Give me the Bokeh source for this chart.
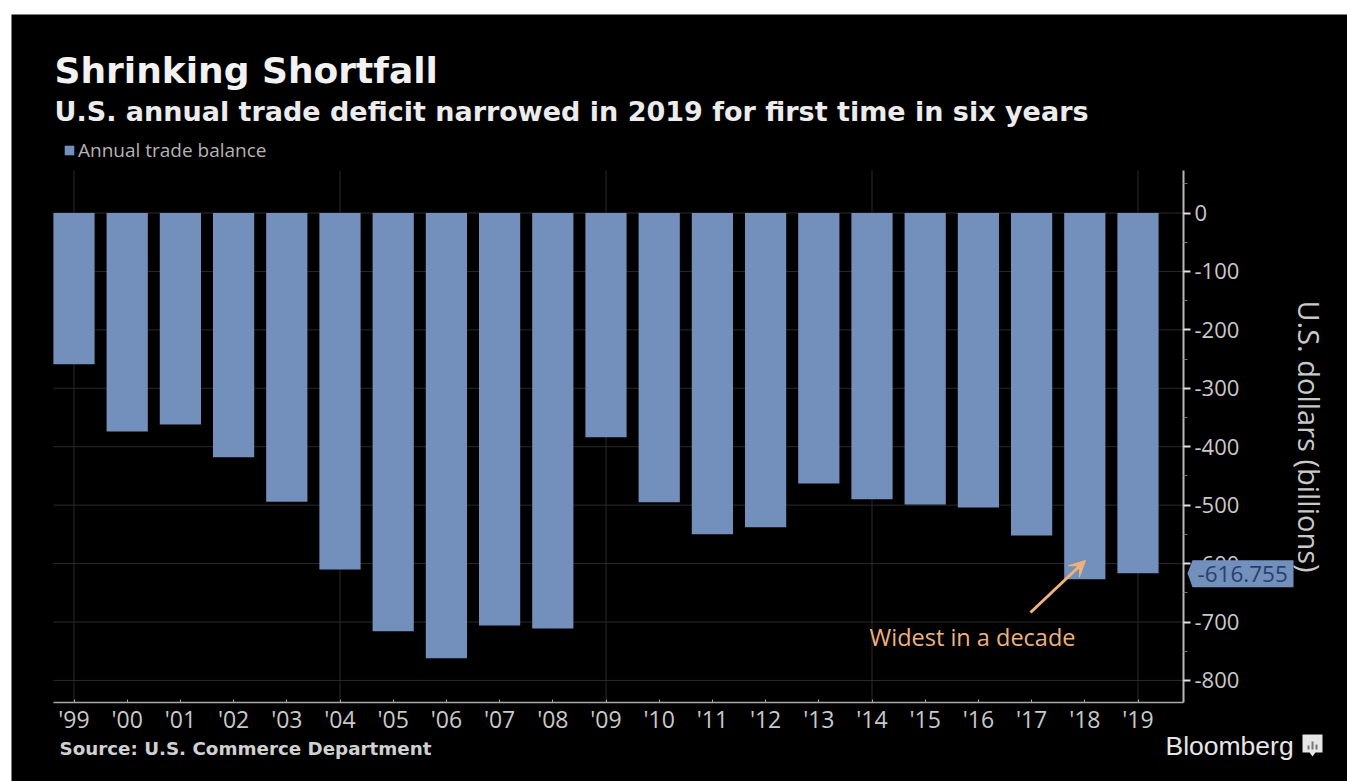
from math import pi

from bokeh.embed import file_html
from bokeh.models import (Arrow, ColumnDataSource, FixedTicker, Label, Legend, LegendItem,
                          LinearAxis, PolyAnnotation, Range1d, VeeHead)
from bokeh.plotting import figure
from bokeh.resources import INLINE

# Annual U.S. trade balance, billions of dollars
years = [1999, 2000, 2001, 2002, 2003, 2004, 2005, 2006, 2007, 2008, 2009,
         2010, 2011, 2012, 2013, 2014, 2015, 2016, 2017, 2018, 2019]
year_labels = ["'99", "'00", "'01", "'02", "'03", "'04", "'05", "'06", "'07", "'08", "'09",
               "'10", "'11", "'12", "'13", "'14", "'15", "'16", "'17", "'18", "'19"]
balance = [-259, -374, -362, -418, -494, -610, -716, -762, -706, -711, -384,
           -495, -550, -538, -463, -490, -499, -504, -552, -627, -616.755]
y_ticks = [0, -100, -200, -300, -400, -500, -600, -700, -800]
y_minor_ticks = [50, -50, -150, -250, -350, -450, -550, -650, -750]
x_grid_years = [1999, 2004, 2009, 2014, 2019]

TITLE = "Shrinking Shortfall"
SUBTITLE = "U.S. annual trade deficit narrowed in 2019 for first time in six years"
SOURCE = "Source: U.S. Commerce Department"
AXIS_TITLE = "U.S. dollars (billions)"
NOTE = "Widest in a decade"
LEGEND = "Annual trade balance"

LEFT, TOP = 11, 14
W, H = 1347 - LEFT, 781 - TOP
BAR = "#7290bb"
TEXT = "#c9c9c9"
ORANGE = "#efb27c"
GRID = "#2a2a2a"
FONT = "Open Sans"
BOLD = "DejaVu Sans"

# The frame fills the canvas; the axes sit at fixed positions within it so that
# the headline, source line and callout can share the same drawing area.
PX_PER_YEAR = 53.2
PX_PER_BILLION = 0.5843
X_ORIGIN_PX, Y_ORIGIN_PX = 73.5, 212.5


def x_at(px):
    return 1999 + (px - X_ORIGIN_PX) / PX_PER_YEAR


def y_at(py):
    return (Y_ORIGIN_PX - py) / PX_PER_BILLION


plot_x0, plot_x1 = x_at(53), x_at(1183)
plot_y0, plot_y1 = y_at(702), y_at(170)

p = figure(width=W, height=H, output_backend="svg", toolbar_location=None,
           x_range=Range1d(x_at(LEFT), x_at(1347)), y_range=Range1d(y_at(781), y_at(TOP)),
           y_axis_location=None, min_border=0,
           background_fill_color="black", border_fill_color="black", outline_line_color=None)
p.margin = (TOP, 0, 0, LEFT)
p.grid.visible = False

# Grid lines stop at the plot area, so they are drawn as segments behind the bars
p.segment(x0=x_grid_years, x1=x_grid_years, y0=[plot_y0] * len(x_grid_years), y1=[plot_y1] * len(x_grid_years),
          line_color=GRID, line_width=1)
p.segment(x0=[plot_x0] * len(y_ticks), x1=[plot_x1] * len(y_ticks), y0=y_ticks, y1=y_ticks,
          line_color=GRID, line_width=1)

source = ColumnDataSource(dict(year=years, value=balance))
bars = p.vbar(x="year", top=0, bottom="value", width=0.775, source=source,
              fill_color=BAR, line_color=None)

# x axis
ax = p.xaxis[0]
ax.fixed_location = plot_y0
ax.bounds = (plot_x0, plot_x1)
ax.ticker = FixedTicker(ticks=years)
ax.major_label_overrides = dict(zip(years, year_labels))
ax.major_label_text_color = TEXT
ax.major_label_text_font = FONT
ax.major_label_text_font_size = "23px"
ax.major_label_standoff = 0
ax.axis_line_color = "#a8a8a8"
ax.axis_line_width = 1.5
ax.major_tick_line_color = "#a8a8a8"
ax.major_tick_in = 3
ax.major_tick_out = 0
ax.minor_tick_line_color = None

# y axis on the right
ay = LinearAxis(ticker=FixedTicker(ticks=y_ticks, minor_ticks=y_minor_ticks),
                fixed_location=plot_x1, bounds=(plot_y0, plot_y1))
ay.major_label_overrides = {t: str(t) for t in y_ticks}
ay.major_label_text_color = TEXT
ay.major_label_text_font = FONT
ay.major_label_text_font_size = "22px"
ay.major_label_standoff = 4
ay.axis_line_color = "#b8b8b8"
ay.axis_line_width = 2
ay.major_tick_line_color = "#e0e0e0"
ay.major_tick_line_width = 2
ay.major_tick_in = 0
ay.major_tick_out = 7
ay.minor_tick_line_color = "#777777"
ay.minor_tick_in = 0
ay.minor_tick_out = 4
p.add_layout(ay, "right")


def screen_label(text, px, py, size, color=TEXT, font=FONT, style="normal", **kw):
    """Text placed by page pixel; py is the vertical middle of the line."""
    lab = Label(x=px - LEFT, y=781 - py, x_units="screen", y_units="screen", text=text,
                text_color=color, text_font=font, text_font_size=size, text_font_style=style,
                text_baseline="middle", **kw)
    p.add_layout(lab)
    return lab


screen_label(TITLE, 54, 70, "36px", "#f2f2f2", BOLD, "bold")
screen_label(SUBTITLE, 54, 111, "27px", "#ececec", BOLD, "bold")
screen_label(SOURCE, 59, 748, "18.3px", "#d0d0d0", BOLD, "bold")
screen_label("Bloomberg", 1165, 745, "26.5px", "#e6e6e6", "Liberation Sans")
screen_label(AXIS_TITLE, 1309, 436, "29px", TEXT, FONT, angle=-pi / 2, text_align="center")

# legend above the plot area
legend = Legend(items=[LegendItem(label=LEGEND, renderers=[bars])], location=(52, 781 - 163),
                background_fill_alpha=0, border_line_color=None, padding=0, margin=0,
                glyph_width=12, glyph_height=12, label_text_color="#b4b4b4", label_text_font=FONT,
                label_text_font_size="19px", label_standoff=3, spacing=0)
p.add_layout(legend, "center")

# annotation of the 2018 peak
p.add_layout(Arrow(x_start=x_at(1030), y_start=y_at(612), x_end=x_at(1085), y_end=y_at(560),
                   line_color=ORANGE, line_width=3,
                   end=VeeHead(size=16, fill_color=ORANGE, line_color=ORANGE)))
p.add_layout(Label(x=x_at(972), y=y_at(636), text=NOTE, text_color=ORANGE, text_font=FONT,
                   text_font_size="23.5px", text_align="center", text_baseline="middle"))

# value callout for the latest year, attached to the axis
last = balance[-1]
tip = plot_x1 + 4 / PX_PER_YEAR
neck = plot_x1 + 9 / PX_PER_YEAR
end = plot_x1 + 110 / PX_PER_YEAR
up = last + 13 / PX_PER_BILLION
down = last - 14 / PX_PER_BILLION
p.add_layout(PolyAnnotation(xs=[tip, neck, end, end, neck], ys=[last, up, up, down, down],
                            fill_color=BAR, fill_alpha=1, line_color=None))
p.add_layout(Label(x=plot_x1, y=last, x_offset=14, y_offset=-1, text=f"{last:.3f}",
                   text_color="#28406e", text_font=FONT, text_font_size="22.5px",
                   text_baseline="middle"))

# Bloomberg mark: a speech-bubble square holding three small bars
mx, my = 1302, 734
p.add_layout(PolyAnnotation(xs=[x_at(v) for v in (mx, mx + 20, mx + 20, mx + 13, mx + 10, mx + 7, mx)],
                            ys=[y_at(v) for v in (my, my, my + 18, my + 18, my + 22, my + 18, my + 18)],
                            fill_color="#e6e6e6", fill_alpha=1, line_color=None))
for off, rise in ((6, 4), (10, 8), (14, 5)):
    p.add_layout(PolyAnnotation(xs=[x_at(v) for v in (mx + off - 1, mx + off + 1, mx + off + 1, mx + off - 1)],
                                ys=[y_at(v) for v in (my + 15 - rise, my + 15 - rise, my + 15, my + 15)],
                                fill_color="#777777", fill_alpha=1, line_color=None))

open("out.html", "w").write(file_html(p, INLINE))
